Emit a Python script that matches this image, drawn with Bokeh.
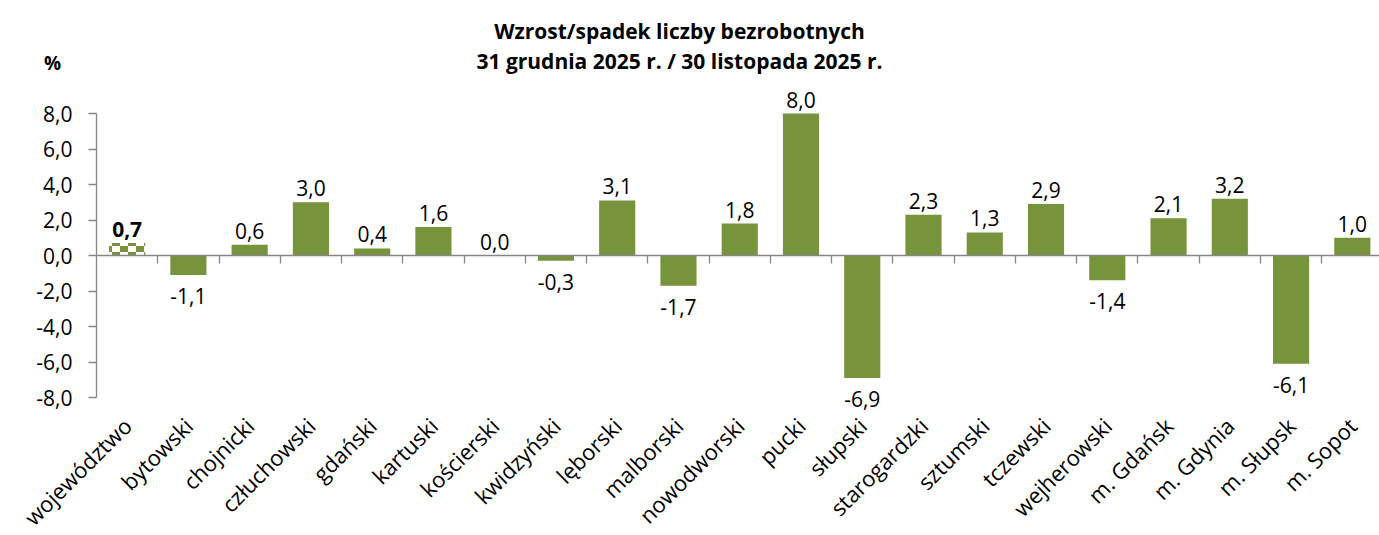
import math, zlib, struct, base64
from bokeh.plotting import figure
from bokeh.models import Range1d, LinearAxis, FixedTicker, ColumnDataSource, ImageURLTexture
from bokeh.core.properties import value
from bokeh.embed import file_html
from bokeh.resources import INLINE

# ---- data ----
categories = ["województwo", "bytowski", "chojnicki", "człuchowski", "gdański", "kartuski",
              "kościerski", "kwidzyński", "lęborski", "malborski", "nowodworski", "pucki",
              "słupski", "starogardzki", "sztumski", "tczewski", "wejherowski", "m. Gdańsk",
              "m. Gdynia", "m. Słupsk", "m. Sopot"]
values = [0.7, -1.1, 0.6, 3.0, 0.4, 1.6, 0.0, -0.3, 3.1, -1.7, 1.8, 8.0,
          -6.9, 2.3, 1.3, 2.9, -1.4, 2.1, 3.2, -6.1, 1.0]
y_ticks = [-8, -6, -4, -2, 0, 2, 4, 6, 8]
title_lines = ["Wzrost/spadek liczby bezrobotnych", "31 grudnia 2025 r. / 30 listopada 2025 r."]
unit_label = ["%"]

FONT = "Open Sans"
GREEN = "#77933C"
AXIS = "#868686"
W, H = 1379, 535

# pixel geometry of the plotting area (page pixels)
X0_PX, CAT_PX = 96, 61.26        # left edge of first category, width of a category
Y0_PX, UNIT_PX = 255, 17.75      # pixel row of value 0, pixels per unit


def fmt(v):
    return f"{v:.1f}".replace(".", ",")


def px_to_x(px):
    return (px - X0_PX) / CAT_PX - 0.5


def px_to_y(py):
    return (Y0_PX - py) / UNIT_PX


xs = list(range(len(categories)))

# checker texture for the voivodeship bar
def make_png(w, h, rows):
    def chunk(t, d):
        c = struct.pack(">I", len(d)) + t + d
        return c + struct.pack(">I", zlib.crc32(t + d) & 0xffffffff)
    raw = b"".join(b"\x00" + bytes(r) for r in rows)
    return (b"\x89PNG\r\n\x1a\n" + chunk(b"IHDR", struct.pack(">IIBBBBB", w, h, 8, 2, 0, 0, 0))
            + chunk(b"IDAT", zlib.compress(raw)) + chunk(b"IEND", b""))

cw, ch = 8, 6
g = (0x77, 0x93, 0x3C)
wh = (255, 255, 255)
rows = []
for yy in range(2 * ch):
    row = []
    for xx in range(2 * cw):
        c = g if ((xx // cw) + (yy // ch)) % 2 == 0 else wh
        row.extend(c)
    rows.append(row)
png_uri = "data:image/png;base64," + base64.b64encode(make_png(2 * cw, 2 * ch, rows)).decode()

p = figure(frame_width=W, frame_height=H,
           x_range=Range1d(px_to_x(0), px_to_x(W)), y_range=Range1d(px_to_y(H), px_to_y(0)),
           output_backend="svg", toolbar_location=None, x_axis_type=None, y_axis_type=None,
           title=None, min_border=0)
p.outline_line_color = None
p.background_fill_color = "white"
p.border_fill_color = "white"

# y axis
yax = LinearAxis(ticker=FixedTicker(ticks=y_ticks, minor_ticks=[]), bounds=(-8, 8),
                 fixed_location=-0.5,
                 major_label_overrides={t: fmt(t) for t in y_ticks})
yax.axis_line_color = AXIS
yax.axis_line_width = 1.3
yax.major_tick_line_color = AXIS
yax.major_tick_line_width = 1.3
yax.major_tick_out = 8
yax.major_tick_in = 0
yax.minor_tick_line_color = None
yax.major_label_standoff = 16
yax.major_label_text_font = FONT
yax.major_label_text_font_size = "21px"
yax.major_label_text_color = "black"
p.add_layout(yax, "left")

# category label axis (placed just below the -8 end of the value axis)
cax = LinearAxis(ticker=FixedTicker(ticks=xs, minor_ticks=[]), fixed_location=px_to_y(412),
                 major_label_overrides={i: c for i, c in zip(xs, categories)})
cax.axis_line_color = None
cax.major_tick_line_color = None
cax.minor_tick_line_color = None
cax.major_tick_out = 0
cax.major_tick_in = 0
cax.major_label_orientation = math.pi / 4
cax.major_label_standoff = 9
cax.major_label_text_font = FONT
cax.major_label_text_font_size = "22px"
cax.major_label_text_color = "black"
p.add_layout(cax, "below")

# zero line axis with category boundary ticks
zax = LinearAxis(ticker=FixedTicker(ticks=[], minor_ticks=[i + 0.5 for i in xs[:-1]]),
                 fixed_location=0, bounds=(-0.5, px_to_x(W)))
zax.axis_line_color = AXIS
zax.axis_line_width = 1.3
zax.minor_tick_line_color = AXIS
zax.minor_tick_line_width = 1.3
zax.minor_tick_out = 8
zax.minor_tick_in = 0
zax.major_tick_out = 0
zax.major_tick_in = 0
zax.major_tick_line_color = None
zax.major_label_text_font_size = "0px"
zax.major_label_standoff = 0
p.add_layout(zax, "below")

# bars
first = ColumnDataSource(dict(x=xs[:1], top=values[:1], label=[fmt(v) for v in values[:1]]))
rest = ColumnDataSource(dict(x=xs[1:], top=values[1:]))
p.vbar(x="x", top="top", bottom=0, width=0.59, source=rest, fill_color=GREEN, line_color=None)
p.vbar(x="x", top="top", bottom=0, width=0.59, source=first, fill_color="white", line_color=None,
       hatch_pattern=value("checker"), hatch_extra={"checker": ImageURLTexture(url=png_uri)},
       hatch_alpha=1.0)

# value labels
pos = [(x, v) for x, v in zip(xs[1:], values[1:]) if v >= 0]
neg = [(x, v) for x, v in zip(xs[1:], values[1:]) if v < 0]
pos_src = ColumnDataSource(dict(x=[a for a, b in pos], y=[b for a, b in pos], t=[fmt(b) for a, b in pos]))
neg_src = ColumnDataSource(dict(x=[a for a, b in neg], y=[b for a, b in neg], t=[fmt(b) for a, b in neg]))
common = dict(text_font=value(FONT), text_font_size="21px", text_color="black", text_align="center")
p.text(x="x", y="y", text="t", source=pos_src, text_baseline="bottom", y_offset=-6, **common)
p.text(x="x", y="y", text="t", source=neg_src, text_baseline="top", y_offset=13, **common)
p.text(x="x", y="top", text="label", source=first, text_baseline="bottom", y_offset=-6,
       text_font_style="bold", **common)

# title and unit
title_src = ColumnDataSource(dict(x=[px_to_x(679)] * 2, y=[px_to_y(30), px_to_y(60)], t=title_lines))
p.text(x="x", y="y", text="t", source=title_src, text_font=value(FONT), text_font_size="21px",
       text_font_style="bold", text_color="black", text_align="center", text_baseline="middle")
unit_src = ColumnDataSource(dict(x=[px_to_x(52)], y=[px_to_y(62)], t=unit_label))
p.text(x="x", y="y", text="t", source=unit_src, text_font=value(FONT), text_font_size="19px",
       text_font_style="bold", text_color="black", text_align="center", text_baseline="middle")

open("out.html", "w").write(file_html(p, INLINE))
